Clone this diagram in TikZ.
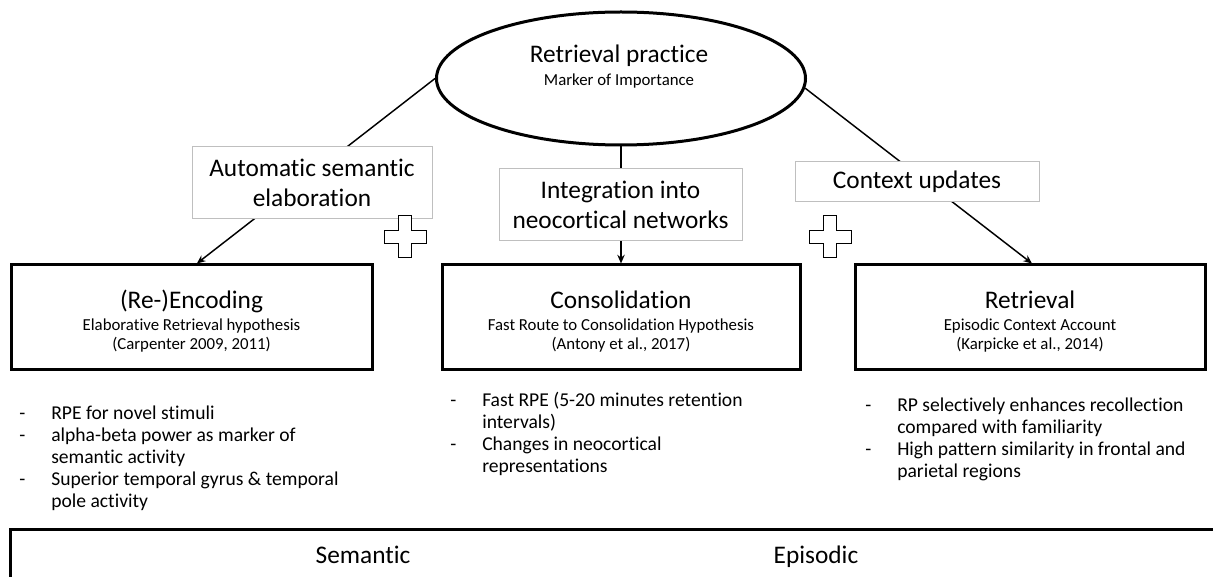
\documentclass[tikz,border=0pt]{standalone}
\usepackage{fontspec}
\setmainfont{Carlito}[Ligatures=NoCommon]
\usetikzlibrary{shapes.geometric}
\usetikzlibrary{arrows.meta}
\usetikzlibrary{positioning}
\newcommand\dashline{\makebox[24pt][l]{-}}
\newcommand\hdtext[1]{{\fontsize{19}{22}\selectfont #1}}
\tikzset{main box/.style={ draw, line width=2.25pt, minimum width=#1,
            minimum height=78pt, inner sep=0pt },
            main box/.default=270pt,
            box text/.style={align=center, inner sep=0pt,
            font=\fontsize{12.6}{14.25}\selectfont},
            label box/.style={draw=black!25, line width=0.75pt, fill=white,
            align=center, inner sep=0pt, font=\fontsize{19}{23}\selectfont},
            link/.style={line width=1.1pt, -{Stealth[length=6.5pt,width=5.5pt]}},
            list/.style={anchor=north west, inner sep=0pt,
            font=\fontsize{14.7}{16.5}\selectfont},
            plus sign/.pic={
                \draw[line width=0.75pt, fill=white]
                (-6.5,-21) -- (6.5,-21) -- (6.5,-6.5) -- (21,-6.5) -- (21,6.5)
                -- (6.5,6.5) -- (6.5,21) -- (-6.5,21) -- (-6.5,6.5) -- (-21,6.5)
                -- (-21,-6.5) -- (-6.5,-6.5) -- cycle;
            }}

\begin{document}
\begin{tikzpicture}[x=0.75pt,y=-0.75pt]
\path[use as bounding box] (0,0) rectangle (1213,577);
\clip (0,0) rectangle (1213,577);
% top of the tree
\node [ellipse, draw, line width=2.25pt, minimum width=276.75pt,
    minimum height=99.75pt, inner sep=0pt] (rp) at (621,78.5) {};
\node [align=center, inner sep=0pt, font=\fontsize{12.6}{14}\selectfont] (rptext)
    at (619,66.8) {\hdtext{Retrieval practice}\\[3.25pt]Marker of Importance};
%
\node [main box=270.75pt] (enc) at (191.5,317) {};
\node [main box=268.5pt] (cons) at (621,317) {};
\node [main box=262.5pt] (retr) at (1030,317) {};
\node [box text] (enctext) at (191.5,321.5)
    {\hdtext{(Re-)Encoding}\\[2.25pt]Elaborative Retrieval hypothesis\\(Carpenter 2009, 2011)};
\node [box text] (constext) at (621,321.5)
    {\hdtext{Consolidation}\\[2.25pt]Fast Route to Consolidation Hypothesis\\(Antony et al., 2017)};
\node [box text] (retrtext) at (1030,321.5)
    {\hdtext{Retrieval}\\[2.25pt]Episodic Context Account\\(Karpicke et al., 2014)};
%
\draw [link] (rp.west) -- ([xshift=4pt]enc.north);
\draw [link] (rp.south) -- (cons.north);
\draw [link] (rp.-3) -- ([xshift=1.5pt]retr.north);
%
\node [label box, minimum width=180pt, minimum height=54pt] (auto) at (312,183)
    {Automatic semantic\\elaboration};
\node [label box, minimum width=182.25pt, minimum height=54pt] (integ) at (620.5,205)
    {Integration into\\neocortical networks};
\node [label box, minimum width=183pt, minimum height=30pt] (ctx) at (917,182)
    {Context updates};
\pic at (405,237) {plus sign};
\pic at (830,237) {plus sign};
%
\node [list] (enclist) at (19,403.4) {\begin{tabular}{@{}l@{}l@{}}
    \dashline & RPE for novel stimuli\\
    \dashline & alpha-beta power as marker of\\
              & semantic activity\\
    \dashline & Superior temporal gyrus \& temporal\\
              & pole activity
    \end{tabular}};
\node [list] (conslist) at (450,390.4) {\begin{tabular}{@{}l@{}l@{}}
    \dashline & Fast RPE (5-20 minutes retention\\
              & intervals)\\
    \dashline & Changes in neocortical\\
              & representations
    \end{tabular}};
\node [list] (retrlist) at (865,395.4) {\begin{tabular}{@{}l@{}l@{}}
    \dashline & RP selectively enhances recollection\\
              & compared with familiarity\\
    \dashline & High pattern similarity in frontal and\\
              & parietal regions
    \end{tabular}};
%
\draw [line width=2.25pt] (10,600) |- (1240,529);
\node [anchor=base, font=\fontsize{19}{22}\selectfont] (sem) at (363,563) {Semantic};
\node [anchor=base, font=\fontsize{19}{22}\selectfont] (epi) at (816,563) {Episodic};
\end{tikzpicture}
\end{document}
